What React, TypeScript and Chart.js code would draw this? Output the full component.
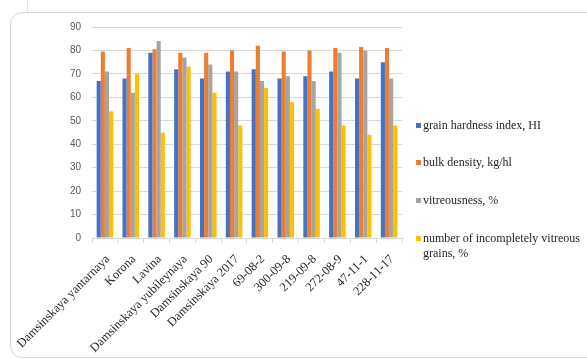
import React, { useEffect, useRef } from "react";
import { Chart, registerables } from "chart.js";

Chart.register(...registerables);

const categories = [
  "Damsinskaya yantarnaya",
  "Korona",
  "Lavina",
  "Damsinskaya yubileynaya",
  "Damsinskaya 90",
  "Damsinskaya 2017",
  "69-08-2",
  "300-09-8",
  "219-09-8",
  "272-08-9",
  "47-11-1",
  "228-11-17",
];

const hardnessIndex = [67, 68, 79, 72, 68, 71, 72, 68, 69, 71, 68, 75];
const bulkDensity = [79.5, 81, 80.5, 79, 79, 80, 82, 79.5, 80, 81, 81.5, 81];
const vitreousness = [71, 62, 84, 77, 74, 71, 67, 69, 67, 79, 80, 68];
const incompleteGrains = [54, 70, 45, 73, 62, 48, 64, 58, 55, 48, 44, 48];

const seriesNames = [
  "grain hardness index, HI",
  "bulk density, kg/hl",
  "vitreousness, %",
  "number of incompletely vitreous grains, %",
];
const seriesColors = ["#4472C4", "#ED7D31", "#A5A5A5", "#FFC000"];

const yTicks = [0, 10, 20, 30, 40, 50, 60, 70, 80, 90];

const SERIF = "Liberation Serif, Times New Roman, serif";

export default function App() {
  const canvasRef = useRef<HTMLCanvasElement | null>(null);

  useEffect(() => {
    const canvas = canvasRef.current;
    if (!canvas) return;
    const seriesData = [hardnessIndex, bulkDensity, vitreousness, incompleteGrains];
    const chart = new Chart(canvas, {
      type: "bar",
      data: {
        labels: categories,
        datasets: seriesData.map((d, i) => ({
          label: seriesNames[i],
          data: d,
          backgroundColor: seriesColors[i],
          borderWidth: 0,
          barPercentage: 1,
          categoryPercentage: 0.64,
        })),
      },
      options: {
        responsive: false,
        animation: false,
        devicePixelRatio: 1,
        layout: { padding: { left: 0, right: 185, top: 27, bottom: 0 } },
        plugins: {
          legend: { display: false },
          tooltip: { enabled: false },
        },
        scales: {
          x: {
            grid: {
              display: true,
              drawOnChartArea: false,
              drawTicks: true,
              tickLength: 5,
              color: "#d9d9d9",
            },
            border: { display: true, color: "#d9d9d9" },
            ticks: {
              autoSkip: false,
              minRotation: 45,
              maxRotation: 45,
              padding: 9,
              labelOffset: 3,
              color: "#262626",
              font: { family: SERIF, size: 12.5 },
            },
            afterFit: (scale: any) => {
              scale.height = 121;
            },
          },
          y: {
            min: 0,
            max: 90,
            afterBuildTicks: (scale: any) => {
              scale.ticks = yTicks.map((v) => ({ value: v }));
            },
            grid: { color: "#d9d9d9", drawTicks: false },
            border: { display: false },
            ticks: {
              padding: 11,
              color: "#595959",
              font: { family: "Liberation Sans, Arial, sans-serif", size: 10 },
            },
            afterFit: (scale: any) => {
              scale.width = 92;
            },
          },
        },
      },
    });
    return () => chart.destroy();
  }, []);

  const legendTops = [118, 155, 193, 231];

  return (
    <div
      style={{
        position: "absolute",
        left: 0,
        top: 0,
        width: 587,
        height: 359,
        overflow: "hidden",
        background: "#fff",
      }}
    >
      <div
        style={{
          position: "absolute",
          left: 27,
          top: 0,
          width: 1,
          height: 12,
          background: "#e6e6e6",
        }}
      />
      <div
        style={{
          position: "absolute",
          left: 10,
          top: 12,
          width: 620,
          height: 344,
          border: "1px solid #d9d9d9",
          borderRadius: 12,
        }}
      />
      <canvas
        ref={canvasRef}
        width={587}
        height={359}
        style={{ position: "absolute", left: 0, top: 0, width: 587, height: 359 }}
      />
      {seriesNames.map((name, i) => (
        <div
          key={name}
          style={{
            position: "absolute",
            left: 416,
            top: legendTops[i],
            display: "flex",
            alignItems: "flex-start",
            fontFamily: SERIF,
            fontSize: 12,
            lineHeight: "15px",
            color: "#262626",
            whiteSpace: "nowrap",
          }}
        >
          <span
            style={{
              display: "inline-block",
              width: 5,
              height: 5,
              marginTop: 5,
              marginRight: 2,
              background: seriesColors[i],
            }}
          />
          <span style={{ fontFamily: SERIF }}>
            {i === 3 ? (
              <>
                number of incompletely vitreous
                <br />
                grains, %
              </>
            ) : (
              name
            )}
          </span>
        </div>
      ))}
    </div>
  );
}
